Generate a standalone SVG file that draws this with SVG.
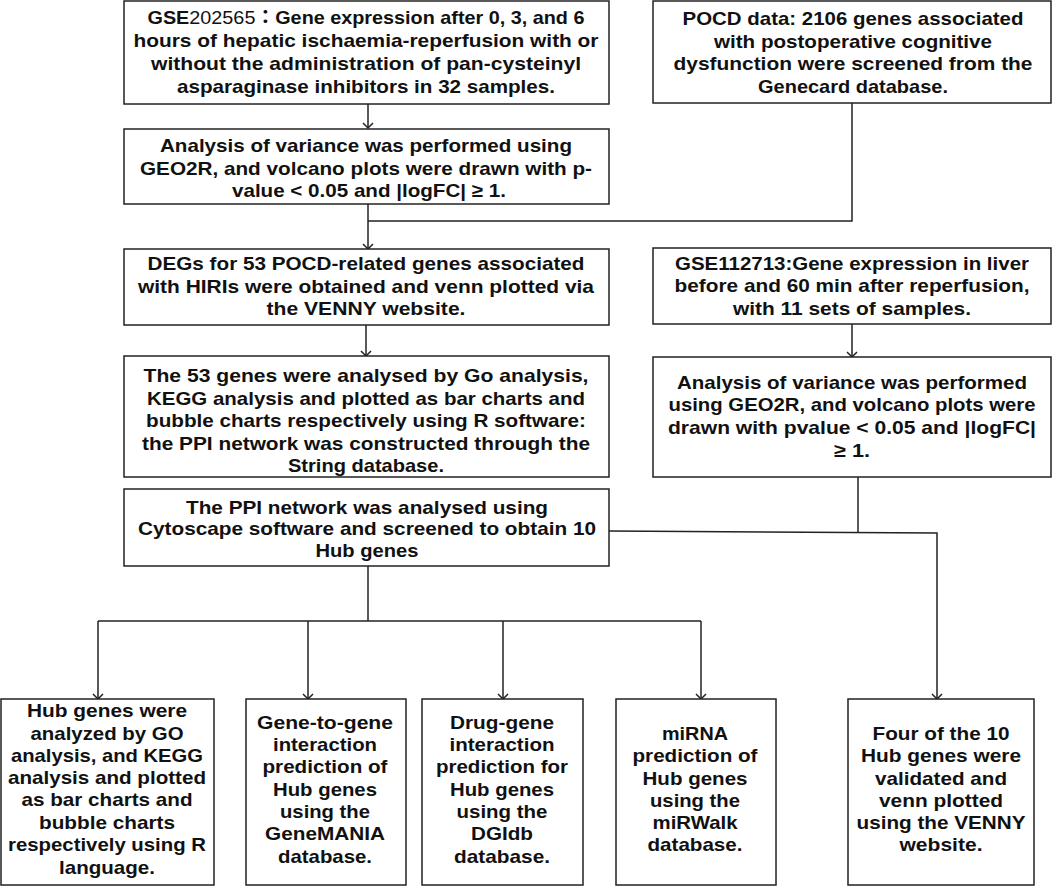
<svg xmlns="http://www.w3.org/2000/svg" width="1052" height="886" viewBox="0 0 1052 886">
<style>
.box{fill:#fff;stroke:#222;stroke-width:1.5}
.t{font-family:"Liberation Sans","Noto Sans CJK JP",sans-serif;font-weight:bold;font-size:19px;fill:#111;text-anchor:middle}
.c{fill:none;stroke:#222;stroke-width:1.5}
.n{font-weight:normal}
</style>
<defs>
<marker id="arr" markerUnits="userSpaceOnUse" markerWidth="12" markerHeight="12" refX="6" refY="6" orient="auto" viewBox="0 0 12 12">
<path d="M1,1 L6,6 L1,11" fill="none" stroke="#222" stroke-width="1.5"/>
</marker>
</defs>
<rect width="1052" height="886" fill="#fff"/>
<g id="connectors">
<path class="c" d="M368,104 V128" marker-end="url(#arr)"/>
<path class="c" d="M852,103 V221 H368"/>
<path class="c" d="M368,204 V249" marker-end="url(#arr)"/>
<path class="c" d="M366,325 V356" marker-end="url(#arr)"/>
<path class="c" d="M852,324 V357" marker-end="url(#arr)"/>
<path class="c" d="M858,477 V532"/>
<path class="c" d="M609,531 L937,533 V699" marker-end="url(#arr)"/>
<path class="c" d="M368,566 V621"/>
<path class="c" d="M98,621 H701"/>
<path class="c" d="M98,621 V699" marker-end="url(#arr)"/>
<path class="c" d="M308,621 V699" marker-end="url(#arr)"/>
<path class="c" d="M503,621 V699" marker-end="url(#arr)"/>
<path class="c" d="M701,621 V699" marker-end="url(#arr)"/>
</g>
<g id="n1">
<rect class="box" x="124" y="1" width="485" height="103"/>
<text class="t" x="366" y="24" textLength="437" lengthAdjust="spacingAndGlyphs">GSE<tspan class="n">202565</tspan>：Gene expression after 0, 3, and 6</text>
<text class="t" x="366" y="47" textLength="465" lengthAdjust="spacingAndGlyphs">hours of hepatic ischaemia-reperfusion with or</text>
<text class="t" x="366" y="70" textLength="430" lengthAdjust="spacingAndGlyphs">without the administration of pan-cysteinyl</text>
<text class="t" x="366" y="93" textLength="378" lengthAdjust="spacingAndGlyphs">asparaginase inhibitors in 32 samples.</text>
</g>
<g id="n2">
<rect class="box" x="653" y="1" width="398" height="102"/>
<text class="t" x="853" y="25" textLength="341" lengthAdjust="spacingAndGlyphs">POCD data: 2106 genes associated</text>
<text class="t" x="853" y="48" textLength="278" lengthAdjust="spacingAndGlyphs">with postoperative cognitive</text>
<text class="t" x="853" y="70" textLength="359" lengthAdjust="spacingAndGlyphs">dysfunction were screened from the</text>
<text class="t" x="853" y="93" textLength="190" lengthAdjust="spacingAndGlyphs">Genecard database.</text>
</g>
<g id="n3">
<rect class="box" x="124" y="129" width="485" height="75"/>
<text class="t" x="366" y="152" textLength="412" lengthAdjust="spacingAndGlyphs">Analysis of variance was performed using</text>
<text class="t" x="366" y="175" textLength="452" lengthAdjust="spacingAndGlyphs">GEO2R, and volcano plots were drawn with p-</text>
<text class="t" x="369" y="197" textLength="274" lengthAdjust="spacingAndGlyphs">value &lt; 0.05 and |logFC| ≥ 1.</text>
</g>
<g id="n4">
<rect class="box" x="124" y="249" width="485" height="76"/>
<text class="t" x="366" y="270" textLength="437" lengthAdjust="spacingAndGlyphs">DEGs for 53 POCD-related genes associated</text>
<text class="t" x="366" y="293" textLength="456" lengthAdjust="spacingAndGlyphs">with HIRIs were obtained and venn plotted via</text>
<text class="t" x="366" y="315" textLength="199" lengthAdjust="spacingAndGlyphs">the VENNY website.</text>
</g>
<g id="n5">
<rect class="box" x="124" y="356" width="485" height="121"/>
<text class="t" x="366" y="382" textLength="445" lengthAdjust="spacingAndGlyphs">The 53 genes were analysed by Go analysis,</text>
<text class="t" x="366" y="405" textLength="438" lengthAdjust="spacingAndGlyphs">KEGG analysis and plotted as bar charts and</text>
<text class="t" x="366" y="427" textLength="440" lengthAdjust="spacingAndGlyphs">bubble charts respectively using R software:</text>
<text class="t" x="366" y="450" textLength="448" lengthAdjust="spacingAndGlyphs">the PPI network was constructed through the</text>
<text class="t" x="366" y="472" textLength="156" lengthAdjust="spacingAndGlyphs">String database.</text>
</g>
<g id="n6">
<rect class="box" x="124" y="489" width="485" height="77"/>
<text class="t" x="367" y="514" textLength="362" lengthAdjust="spacingAndGlyphs">The PPI network was analysed using</text>
<text class="t" x="367" y="535" textLength="458" lengthAdjust="spacingAndGlyphs">Cytoscape software and screened to obtain 10</text>
<text class="t" x="367" y="557" textLength="103" lengthAdjust="spacingAndGlyphs">Hub genes</text>
</g>
<g id="n7">
<rect class="box" x="653" y="248" width="398" height="76"/>
<text class="t" x="852" y="270" textLength="354" lengthAdjust="spacingAndGlyphs">GSE112713:Gene expression in liver</text>
<text class="t" x="852" y="292" textLength="355" lengthAdjust="spacingAndGlyphs">before and 60 min after reperfusion,</text>
<text class="t" x="852" y="315" textLength="238" lengthAdjust="spacingAndGlyphs">with 11 sets of samples.</text>
</g>
<g id="n8">
<rect class="box" x="653" y="357" width="398" height="120"/>
<text class="t" x="852" y="389" textLength="350" lengthAdjust="spacingAndGlyphs">Analysis of variance was performed</text>
<text class="t" x="852" y="411" textLength="367" lengthAdjust="spacingAndGlyphs">using GEO2R, and volcano plots were</text>
<text class="t" x="852" y="434" textLength="368" lengthAdjust="spacingAndGlyphs">drawn with pvalue &lt; 0.05 and |logFC|</text>
<text class="t" x="852" y="457" textLength="36" lengthAdjust="spacingAndGlyphs">≥ 1.</text>
</g>
<g id="nA">
<rect class="box" x="1" y="699" width="213" height="186"/>
<text class="t" x="107" y="717" textLength="160" lengthAdjust="spacingAndGlyphs">Hub genes were</text>
<text class="t" x="107" y="740" textLength="153" lengthAdjust="spacingAndGlyphs">analyzed by GO</text>
<text class="t" x="107" y="762" textLength="192" lengthAdjust="spacingAndGlyphs">analysis, and KEGG</text>
<text class="t" x="107" y="784" textLength="198" lengthAdjust="spacingAndGlyphs">analysis and plotted</text>
<text class="t" x="107" y="806" textLength="171" lengthAdjust="spacingAndGlyphs">as bar charts and</text>
<text class="t" x="107" y="829" textLength="136" lengthAdjust="spacingAndGlyphs">bubble charts</text>
<text class="t" x="107" y="851" textLength="198" lengthAdjust="spacingAndGlyphs">respectively using R</text>
<text class="t" x="107" y="874" textLength="96" lengthAdjust="spacingAndGlyphs">language.</text>
</g>
<g id="nB">
<rect class="box" x="246" y="699" width="160" height="186"/>
<text class="t" x="325" y="729" textLength="136" lengthAdjust="spacingAndGlyphs">Gene-to-gene</text>
<text class="t" x="325" y="751" textLength="104" lengthAdjust="spacingAndGlyphs">interaction</text>
<text class="t" x="325" y="773" textLength="125" lengthAdjust="spacingAndGlyphs">prediction of</text>
<text class="t" x="325" y="796" textLength="104" lengthAdjust="spacingAndGlyphs">Hub genes</text>
<text class="t" x="325" y="818" textLength="90" lengthAdjust="spacingAndGlyphs">using the</text>
<text class="t" x="325" y="840" textLength="120" lengthAdjust="spacingAndGlyphs">GeneMANIA</text>
<text class="t" x="325" y="863" textLength="94" lengthAdjust="spacingAndGlyphs">database.</text>
</g>
<g id="nC">
<rect class="box" x="422" y="699" width="161" height="186"/>
<text class="t" x="502" y="729" textLength="104" lengthAdjust="spacingAndGlyphs">Drug-gene</text>
<text class="t" x="502" y="751" textLength="105" lengthAdjust="spacingAndGlyphs">interaction</text>
<text class="t" x="502" y="773" textLength="132" lengthAdjust="spacingAndGlyphs">prediction for</text>
<text class="t" x="502" y="796" textLength="104" lengthAdjust="spacingAndGlyphs">Hub genes</text>
<text class="t" x="502" y="818" textLength="91" lengthAdjust="spacingAndGlyphs">using the</text>
<text class="t" x="502" y="840" textLength="62" lengthAdjust="spacingAndGlyphs">DGIdb</text>
<text class="t" x="502" y="863" textLength="96" lengthAdjust="spacingAndGlyphs">database.</text>
</g>
<g id="nD">
<rect class="box" x="616" y="699" width="160" height="186"/>
<text class="t" x="695" y="740" textLength="66" lengthAdjust="spacingAndGlyphs">miRNA</text>
<text class="t" x="695" y="762" textLength="125" lengthAdjust="spacingAndGlyphs">prediction of</text>
<text class="t" x="695" y="785" textLength="105" lengthAdjust="spacingAndGlyphs">Hub genes</text>
<text class="t" x="695" y="807" textLength="90" lengthAdjust="spacingAndGlyphs">using the</text>
<text class="t" x="695" y="829" textLength="85" lengthAdjust="spacingAndGlyphs">miRWalk</text>
<text class="t" x="695" y="851" textLength="95" lengthAdjust="spacingAndGlyphs">database.</text>
</g>
<g id="nE">
<rect class="box" x="848" y="699" width="186" height="186"/>
<text class="t" x="941" y="740" textLength="137" lengthAdjust="spacingAndGlyphs">Four of the 10</text>
<text class="t" x="941" y="762" textLength="160" lengthAdjust="spacingAndGlyphs">Hub genes were</text>
<text class="t" x="941" y="785" textLength="132" lengthAdjust="spacingAndGlyphs">validated and</text>
<text class="t" x="941" y="807" textLength="124" lengthAdjust="spacingAndGlyphs">venn plotted</text>
<text class="t" x="941" y="829" textLength="169" lengthAdjust="spacingAndGlyphs">using the VENNY</text>
<text class="t" x="941" y="851" textLength="83" lengthAdjust="spacingAndGlyphs">website.</text>
</g>
</svg>
